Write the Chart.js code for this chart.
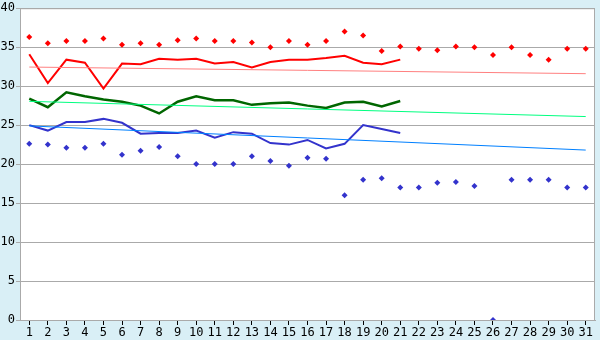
<!DOCTYPE html>
<html>
<head>
<meta charset="utf-8">
<script src="https://cdn.jsdelivr.net/npm/chart.js@4"></script>
<style>
  html, body { margin: 0; padding: 0; background: #d9eff6; }
  canvas { display: block; }
</style>
</head>
<body>
<canvas id="chart" width="600" height="340"></canvas>
<script>
// дни месяца
const days = ['1','2','3','4','5','6','7','8','9','10','11','12','13','14','15','16',
  '17','18','19','20','21','22','23','24','25','26','27','28','29','30','31'];

// точки максимумов (красные ромбы)
const maxPoints = [36.3, 35.5, 35.8, 35.8, 36.1, 35.3, 35.5, 35.3, 35.9, 36.1,
  35.8, 35.8, 35.6, 35.0, 35.8, 35.3, 35.8, 37.0, 36.5, 34.5, 35.1,
  34.8, 34.6, 35.1, 35.0, 34.0, 35.0, 34.0, 33.4, 34.8, 34.8];

// красная линия
const redLine = [34.1, 30.4, 33.4, 33.0, 29.7, 32.9, 32.8, 33.5, 33.4, 33.5,
  32.9, 33.1, 32.4, 33.1, 33.4, 33.4, 33.6, 33.9, 33.0, 32.8, 33.4];

// зелёная линия
const greenLine = [28.4, 27.3, 29.2, 28.7, 28.3, 28.0, 27.5, 26.5, 28.0, 28.7,
  28.2, 28.2, 27.6, 27.8, 27.9, 27.5, 27.2, 27.9, 28.0, 27.4, 28.1];

// синяя линия
const blueLine = [25.0, 24.3, 25.4, 25.4, 25.8, 25.3, 23.9, 24.0, 24.0, 24.3,
  23.4, 24.1, 23.9, 22.7, 22.5, 23.1, 22.0, 22.6, 25.0, 24.5, 24.0];

// точки минимумов (синие ромбы)
const minPoints = [22.6, 22.5, 22.1, 22.1, 22.6, 21.2, 21.7, 22.2, 21.0, 20.0,
  20.0, 20.0, 21.0, 20.4, 19.8, 20.8, 20.7, 16.0, 18.0, 18.2, 17.0,
  17.0, 17.6, 17.7, 17.2, 0, 18.0, 18.0, 18.0, 17.0, 17.0];

// линии тренда: значения в первый и последний день
const redTrend = [32.45, 31.6];
const greenTrend = [28.05, 26.1];
const blueTrend = [24.9, 21.8];

const yTicks = [0, 5, 10, 15, 20, 25, 30, 35, 40];

function trend(ends) {
  const arr = days.map(() => null);
  arr[0] = ends[0];
  arr[days.length - 1] = ends[1];
  return arr;
}

const bgPlugin = {
  id: 'bg',
  beforeDraw(chart) {
    const c = chart.ctx, a = chart.chartArea;
    c.save();
    c.fillStyle = '#d9eff6';
    c.fillRect(0, 0, chart.width, chart.height);
    c.fillStyle = '#ffffff';
    c.fillRect(a.left, a.top, a.right - a.left, a.bottom - a.top);
    c.restore();
  },
  afterDraw(chart) {
    const c = chart.ctx, a = chart.chartArea;
    c.save();
    c.strokeStyle = '#aaaaaa';
    c.lineWidth = 1;
    c.strokeRect(a.left + 0.5, a.top + 0.5, a.right - a.left - 1, a.bottom - a.top);
    c.restore();
  }
};

const monoFont = { family: 'DejaVu Sans Mono', size: 12 };

new Chart(document.getElementById('chart').getContext('2d'), {
  type: 'line',
  data: {
    labels: days,
    datasets: [
      { data: trend(redTrend), borderColor: '#ff8080', borderWidth: 1, pointRadius: 0, spanGaps: true },
      { data: trend(greenTrend), borderColor: '#00ff80', borderWidth: 1, pointRadius: 0, spanGaps: true },
      { data: trend(blueTrend), borderColor: '#0080ff', borderWidth: 1, pointRadius: 0, spanGaps: true },
      { data: redLine, borderColor: '#ff0000', borderWidth: 2, pointRadius: 0 },
      { data: greenLine, borderColor: '#006600', borderWidth: 2.5, pointRadius: 0 },
      { data: blueLine, borderColor: '#3333cc', borderWidth: 2, pointRadius: 0 },
      { data: maxPoints, showLine: false, pointStyle: 'crossRot', pointRadius: 0,
        pointBackgroundColor: '#ff0000', pointBorderColor: '#ff0000' },
      { data: minPoints, showLine: false, pointStyle: 'crossRot', pointRadius: 0,
        pointBackgroundColor: '#3333cc', pointBorderColor: '#3333cc' },
      { data: maxPoints, showLine: false, pointStyle: 'rectRot', pointRadius: 3,
        pointBackgroundColor: '#ff0000', pointBorderColor: '#ff0000', borderWidth: 0 },
      { data: minPoints, showLine: false, pointStyle: 'rectRot', pointRadius: 3,
        pointBackgroundColor: '#3333cc', pointBorderColor: '#3333cc', borderWidth: 0 }
    ]
  },
  options: {
    responsive: false,
    animation: false,
    layout: { padding: { top: 5, right: 5, left: 0, bottom: 0 } },
    plugins: { legend: { display: false }, tooltip: { enabled: false } },
    elements: { line: { tension: 0 } },
    scales: {
      x: {
        offset: true,
        grid: { display: true, drawOnChartArea: false, color: '#000000', tickLength: 5 },
        border: { color: '#aaaaaa' },
        ticks: { font: monoFont, color: '#000000', padding: 1, maxRotation: 0, autoSkip: false },
        afterFit(scale) { scale.height = 20; }
      },
      y: {
        min: 0,
        max: 40,
        afterBuildTicks(scale) { scale.ticks = yTicks.map(v => ({ value: v })); },
        grid: { color: '#aaaaaa', tickLength: 4 },
        border: { color: '#aaaaaa' },
        ticks: { font: monoFont, color: '#000000', padding: 1 },
        afterFit(scale) { scale.width = 20; }
      }
    }
  },
  plugins: [bgPlugin]
});
</script>
</body>
</html>
